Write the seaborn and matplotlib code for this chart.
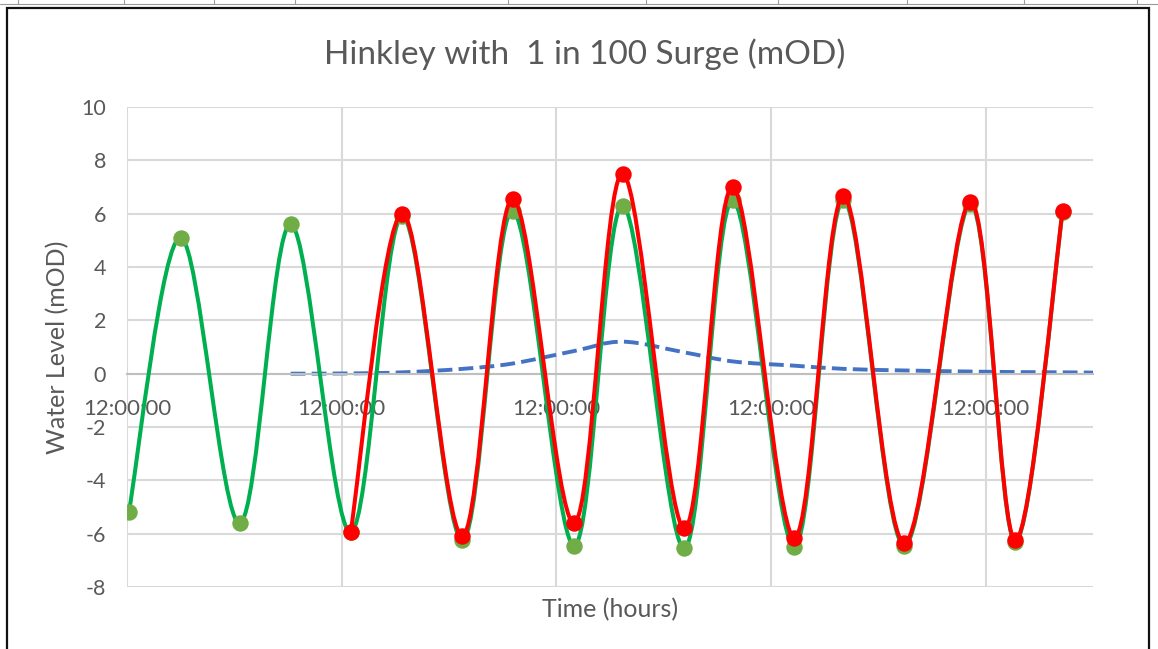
import numpy as np
import pandas as pd
import matplotlib
matplotlib.use("Agg")
import matplotlib.pyplot as plt
import seaborn as sns
from matplotlib.path import Path
from matplotlib.patches import PathPatch, Rectangle
from matplotlib.lines import Line2D

# high / low water (hours from the first 12:00:00 gridline, mOD)
tide_hours = [0.2, 6.0, 12.6, 18.3, 25.0, 30.8, 37.5, 43.1, 50.0, 55.4,
              62.3, 67.7, 74.6, 80.1, 86.9, 94.3, 99.3, 104.6]
tide_level = [-5.2, 5.1, -5.6, 5.6, -5.95, 5.9, -6.25, 6.1, -6.45, 6.3,
              -6.55, 6.5, -6.5, 6.5, -6.45, 6.35, -6.3, 6.05]

# tide with the 1 in 100 surge added
surge_tide_hours = tide_hours[4:]
surge_tide_level = [-5.95, 6.0, -6.08, 6.55, -5.6, 7.5, -5.8, 7.0,
                    -6.15, 6.65, -6.35, 6.45, -6.25, 6.1]

# surge on its own
surge_hours = [18.3, 25.0, 30.8, 37.5, 43.1, 50.0, 55.4, 62.3, 67.7, 74.6,
               80.1, 86.9, 94.3, 99.3, 104.6, 108.0]
surge_level = [0.0, 0.01, 0.05, 0.18, 0.38, 0.85, 1.2, 0.8, 0.46, 0.3,
               0.18, 0.12, 0.08, 0.06, 0.05, 0.04]

x_ticks = [0, 24, 48, 72, 96]
x_tick_labels = ["12:00:00"] * 5
y_ticks = [-8, -6, -4, -2, 0, 2, 4, 6, 8, 10]
y_tick_labels = ["-8", "-6", "-4", "-2", "0", "2", "4", "6", "8", "10"]

df_tide = pd.DataFrame({"hours": tide_hours, "level": tide_level})
df_surge_tide = pd.DataFrame({"hours": surge_tide_hours, "level": surge_tide_level})
df_surge = pd.DataFrame({"hours": surge_hours, "level": surge_level})


def smooth_path(xs, ys):
    # Excel style smoothed line: bezier segments through the points
    pts = np.column_stack([xs, ys]).astype(float)
    n = len(pts)
    verts = [pts[0]]
    codes = [Path.MOVETO]
    for i in range(n - 1):
        p0 = pts[max(i - 1, 0)]
        p1 = pts[i]
        p2 = pts[i + 1]
        p3 = pts[min(i + 2, n - 1)]
        verts += [p1 + (p2 - p0) / 6, p2 - (p3 - p1) / 6, p2]
        codes += [Path.CURVE4] * 3
    return Path(verts, codes)


sns.set_style("white")
plt.rcParams["font.family"] = ["Lato", "DejaVu Sans"]
plt.rcParams["axes.unicode_minus"] = False
text_col = "#595959"

W, H = 1158, 649
fig = plt.figure(figsize=(W / 100, H / 100), dpi=100)
ax = fig.add_axes([127 / W, 1 - 587 / H, (1093 - 127) / W, (587 - 107) / H])

# surge (dashed, no markers)
ax.add_patch(PathPatch(smooth_path(df_surge["hours"], df_surge["level"]), fill=False,
                       edgecolor="#4472C4", lw=2.8, linestyle=(0, (3.8, 1.6)), zorder=2))

# predicted tide
ax.add_patch(PathPatch(smooth_path(df_tide["hours"], df_tide["level"]), fill=False,
                       edgecolor="#00B050", lw=2.9, zorder=3))
sns.scatterplot(x="hours", y="level", data=df_tide, color="#70AD47", s=140,
                linewidth=0, ax=ax, zorder=4)

# tide + surge
ax.add_patch(PathPatch(smooth_path(df_surge_tide["hours"], df_surge_tide["level"]), fill=False,
                       edgecolor="#FF0000", lw=2.9, zorder=5))
sns.scatterplot(x="hours", y="level", data=df_surge_tide, color="#FF0000", s=140,
                linewidth=0, ax=ax, zorder=6)

ax.set_xlim(0, 108)
ax.set_ylim(-8, 10)
ax.set_xticks(x_ticks)
ax.set_xticklabels(x_tick_labels)
ax.set_yticks(y_ticks)
ax.set_yticklabels(y_tick_labels)
ax.grid(True, color="#D9D9D9", lw=1.5)
ax.set_axisbelow(True)
ax.set_xlabel("")
ax.set_ylabel("")

for side in ["top", "right", "left"]:
    ax.spines[side].set_visible(False)
ax.spines["bottom"].set_position(("data", 0))
ax.spines["bottom"].set_color("#BFBFBF")
ax.spines["bottom"].set_linewidth(1.5)
ax.tick_params(axis="x", length=0, pad=18, labelsize=16, labelcolor=text_col)
ax.tick_params(axis="y", length=0, pad=15, labelsize=15.5, labelcolor=text_col)

fig.text(585 / W, 1 - 54 / H, "Hinkley with  1 in 100 Surge (mOD)", ha="center", va="center",
         fontsize=24, color=text_col)
fig.text(58 / W, 1 - 347 / H, "Water Level (mOD)", ha="center", va="center", rotation=90,
         fontsize=18, color=text_col)
fig.text(610 / W, 1 - 610 / H, "Time (hours)", ha="center", va="center",
         fontsize=18, color=text_col)

# chart border and the spreadsheet row above it
fig.add_artist(Rectangle((7 / W, -0.05), (1149 - 7) / W, 1.05 - 7.5 / H, transform=fig.transFigure,
                         fill=False, edgecolor="#111111", lw=1.6))
fig.add_artist(Line2D([0, 1], [1 - 4 / H, 1 - 4 / H], transform=fig.transFigure, color="#9A9A9A", lw=0.8))
for xs in [18, 124, 214, 295, 508, 646, 778, 907, 1024, 1137]:
    fig.add_artist(Line2D([xs / W, xs / W], [1 - 4 / H, 1], transform=fig.transFigure,
                          color="#9A9A9A", lw=0.8))

fig.savefig("out.png", dpi=100)
